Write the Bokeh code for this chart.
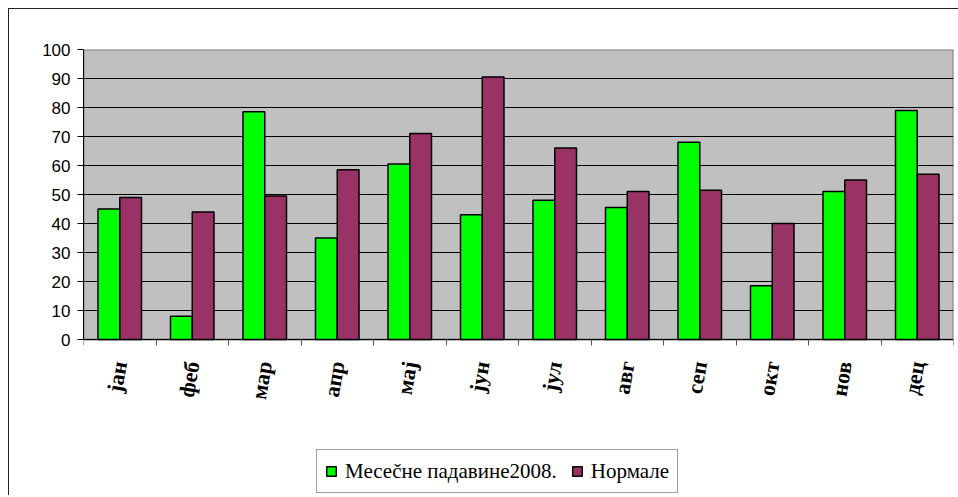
import numpy as np
from bokeh.plotting import figure
from bokeh.models import (Range1d, LinearAxis, FixedTicker, Legend, LegendItem, ColumnDataSource)
from bokeh.embed import file_html
from bokeh.resources import INLINE

months = ["јан", "феб", "мар", "апр", "мај", "јун", "јул", "авг", "сеп", "окт", "нов", "дец"]
rain_2008 = [45, 8, 78.5, 35, 60.5, 43, 48, 45.5, 68, 18.5, 51, 79]
normals = [49, 44, 49.5, 58.5, 71, 90.5, 66, 51, 51.5, 40, 55, 57]
y_ticks = [0, 10, 20, 30, 40, 50, 60, 70, 80, 90, 100]
series_names = ["Месеčне падавине2008.", "Нормале"]

n = len(months)
y_top = y_ticks[-1]
# the frame extends below zero to leave room for the month labels and the legend
y_bottom = -y_top * 156.0 / 290.0
centers = np.arange(n) + 0.5
src = ColumnDataSource(dict(xg=centers - 0.15, xm=centers + 0.15, rain=rain_2008, norm=normals))

p = figure(frame_width=870, frame_height=446, x_range=Range1d(0, n),
           y_range=Range1d(y_bottom, y_top), output_backend="svg", toolbar_location=None,
           x_axis_location=None, y_axis_location=None)
p.min_border_left = 74
p.min_border_right = 5
p.min_border_top = 40
p.min_border_bottom = 0
p.background_fill_color = "white"
p.border_fill_color = "white"
p.outline_line_color = None
p.styles = {"margin-left": "8px", "margin-top": "8px",
            "border-left": "1px solid #222", "border-top": "1px solid #222"}

# grey plot area (0..top of the value axis), drawn beneath the grid
area = p.quad(left=[0], right=[n], bottom=[0], top=[y_top], fill_color="#C0C0C0",
              line_color="#808080", line_width=2, level="image")

r1 = p.vbar(x="xg", top="rain", width=0.3, source=src,
            fill_color="#00FF00", line_color="black", line_width=1.5)
r2 = p.vbar(x="xm", top="norm", width=0.3, source=src,
            fill_color="#993366", line_color="black", line_width=1.5)

# y axis
yax = LinearAxis(ticker=FixedTicker(ticks=y_ticks), bounds=(0, y_top))
yax.major_label_text_font = "Liberation Sans"
yax.major_label_text_font_size = "17px"
yax.major_label_text_color = "black"
yax.major_tick_out = 6
yax.major_tick_in = 0
yax.minor_tick_out = 0
yax.minor_tick_in = 0
yax.major_label_standoff = 7
yax.axis_line_color = "black"
yax.major_tick_line_color = "black"
p.add_layout(yax, "left")

# x axis at value 0: month labels at centers, boundary ticks as minor ticks
xax = LinearAxis(ticker=FixedTicker(ticks=list(centers), minor_ticks=list(range(n + 1))),
                 fixed_location=0)
xax.major_label_overrides = {float(c): m for c, m in zip(centers, months)}
xax.major_tick_out = 0
xax.major_tick_in = 0
xax.minor_tick_out = 6
xax.minor_tick_in = 0
xax.minor_tick_line_color = "#555555"
xax.axis_line_color = "black"
xax.major_label_orientation = 1.4
xax.major_label_text_font = "Liberation Serif"
xax.major_label_text_font_style = "bold"
xax.major_label_text_font_size = "22px"
xax.major_label_text_color = "black"
xax.major_label_standoff = 16
p.add_layout(xax, "below")

# grid
p.xgrid.visible = False
p.ygrid.ticker = FixedTicker(ticks=y_ticks[1:-1])
p.ygrid.grid_line_color = "black"
p.ygrid.grid_line_width = 1

legend = Legend(items=[LegendItem(label=series_names[0], renderers=[r1]),
                       LegendItem(label=series_names[1], renderers=[r2])],
                location=(233, 2), orientation="horizontal")
legend.label_text_font = "Liberation Serif"
legend.label_text_font_size = "21px"
legend.label_text_color = "black"
legend.glyph_width = 12
legend.glyph_height = 12
legend.label_standoff = 8
legend.spacing = 14
legend.padding = 8
legend.margin = 0
legend.label_height = 26
legend.border_line_color = "#404040"
legend.border_line_width = 1
legend.background_fill_color = "white"
legend.background_fill_alpha = 1
p.add_layout(legend, "center")

open("out.html", "w").write(file_html(p, INLINE))
